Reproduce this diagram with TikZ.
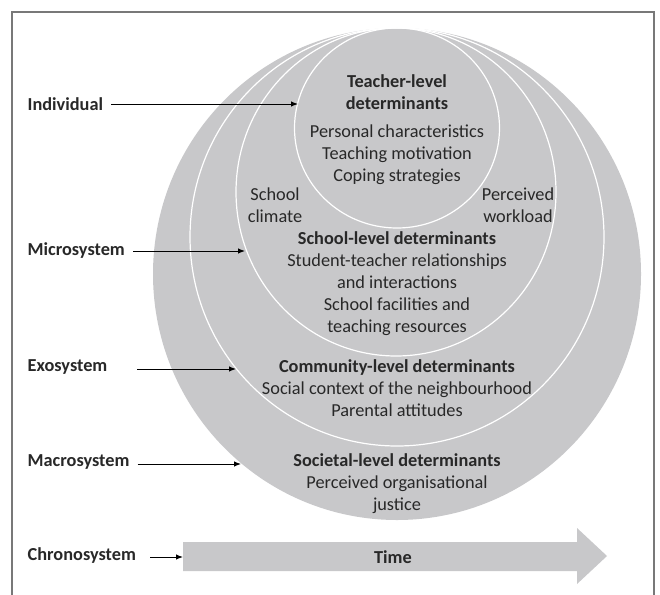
\documentclass[tikz,border=0pt]{standalone}
\usepackage{fontspec}
\setmainfont{Carlito}
\usetikzlibrary{arrows.meta}
\definecolor{fillgray}{RGB}{200,200,202}
\definecolor{txt}{RGB}{40,40,40}
\definecolor{framegray}{RGB}{120,120,120}
\begin{document}
\begin{tikzpicture}[x=1pt,y=-1pt,
  every node/.style={text=txt, font=\fontsize{18.3}{22}\selectfont, inner sep=0pt, align=center},
  lbl/.style={font=\fontsize{18.3}{22}\selectfont\bfseries, anchor=west},
  conn/.style={-{Latex[length=7pt,width=5.5pt]}, line width=1pt, black},
  ring/.style={draw=white, line width=1.2pt}]
\useasboundingbox (0,0) rectangle (660,594);
% frame
\draw[framegray, line width=1.3pt] (12,600) -- (12,12) -- (654,12) -- (654,600);
% nested levels
\fill[fillgray] (397,274) ellipse [x radius=244, y radius=246];
\draw[ring] (397,237) ellipse [x radius=207, y radius=209];
\draw[ring] (396,192) ellipse [x radius=160, y radius=164];
\draw[ring] (397,128) ellipse [x radius=102.5, y radius=100];
% time arrow
\fill[fillgray] (183,542) -- (577,542) -- (577,528) -- (607,556) -- (577,584) -- (577,571) -- (183,571) -- cycle;
% texts
\node (tTitle) at (397,92.5) {\bfseries Teacher-level\\\bfseries determinants};
\node (tItems) at (397,155) {Personal characteristics\\Teaching motivation\\Coping strategies};
\node (climate) at (275,205) {School\\climate};
\node (workload) at (518,205) {Perceived\\workload};
\node (school) at (397,284) {\bfseries School-level determinants\\Student-teacher relationships\\and interactions\\School facilities and\\teaching resources};
\node (community) at (397,388) {\bfseries Community-level determinants\\Social context of the neighbourhood\\Parental attitudes};
\node (societal) at (397,484) {\bfseries Societal-level determinants\\Perceived organisational\\justice};
\node (time) at (393,557) {\bfseries Time};
% left labels
\node[lbl] (ind) at (27.5,104) {Individual};
\node[lbl] (mic) at (27.5,251) {Microsystem};
\node[lbl] (exo) at (27.5,367) {Exosystem};
\node[lbl] (mac) at (27.5,462) {Macrosystem};
\node[lbl] (chr) at (27.5,556) {Chronosystem};
% connector ends
\coordinate (sInd) at (111,104);   \coordinate (eInd) at (298,104);
\coordinate (sMic) at (133,251);   \coordinate (eMic) at (245,251);
\coordinate (sExo) at (137,369);   \coordinate (eExo) at (236,369);
\coordinate (sMac) at (137.5,464); \coordinate (eMac) at (241,464);
\coordinate (sChr) at (150,557);   \coordinate (eChr) at (183,557);
\draw[conn] (sInd) -- (eInd);
\draw[conn] (sMic) -- (eMic);
\draw[conn] (sExo) -- (eExo);
\draw[conn] (sMac) -- (eMac);
\draw[conn] (sChr) -- (eChr);
\end{tikzpicture}
\end{document}
